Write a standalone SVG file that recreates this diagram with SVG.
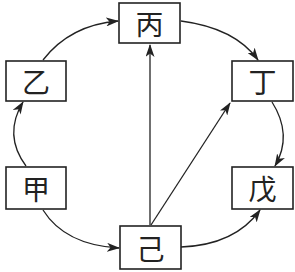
<svg xmlns="http://www.w3.org/2000/svg" width="295" height="272" viewBox="0 0 295 272">
<style>
.box{fill:#fff;stroke:#222;stroke-width:1.6}
.t{font-family:"Noto Sans CJK SC","Noto Sans CJK JP",sans-serif;font-size:28px;font-weight:400;fill:#222;text-anchor:middle;dominant-baseline:central}
.c{fill:none;stroke:#222;stroke-width:1.3}
</style>
<defs>
<marker id="ah" viewBox="0 0 13 9" refX="12" refY="4.5" markerWidth="13" markerHeight="9" markerUnits="userSpaceOnUse" orient="auto">
<path d="M0,0 L13,4.5 L0,9 L3.5,4.5 Z" fill="#222"/>
</marker>
</defs>
<rect width="295" height="272" fill="#fff"/>
<g id="connectors">
<path class="c" d="M43,60 Q70,25 118,21" marker-end="url(#ah)"/>
<path class="c" d="M181,21 Q235,28 258,60" marker-end="url(#ah)"/>
<path class="c" d="M272,102 Q293,135 275,166" marker-end="url(#ah)"/>
<path class="c" d="M26,166 Q3,135 23,102" marker-end="url(#ah)"/>
<path class="c" d="M43,210 Q65,245 119,248" marker-end="url(#ah)"/>
<path class="c" d="M181,247 Q235,245 260,210" marker-end="url(#ah)"/>
<path class="c" d="M150,225 L150,45" marker-end="url(#ah)"/>
<path class="c" d="M151,225 L230,103" marker-end="url(#ah)"/>
</g>
<g id="bing"><rect class="box" x="119" y="3" width="61" height="40"/><text class="t" x="149.5" y="23">丙</text></g>
<g id="yi"><rect class="box" x="6" y="61" width="60" height="40"/><text class="t" x="36" y="81">乙</text></g>
<g id="ding"><rect class="box" x="232" y="61" width="61" height="40"/><text class="t" x="262.5" y="81">丁</text></g>
<g id="jia"><rect class="box" x="6" y="167" width="60" height="42"/><text class="t" x="36" y="188">甲</text></g>
<g id="wu"><rect class="box" x="232" y="167" width="61" height="42"/><text class="t" x="262.5" y="188">戊</text></g>
<g id="ji"><rect class="box" x="120" y="226" width="61" height="43"/><text class="t" x="150.5" y="247.5">己</text></g>
</svg>
